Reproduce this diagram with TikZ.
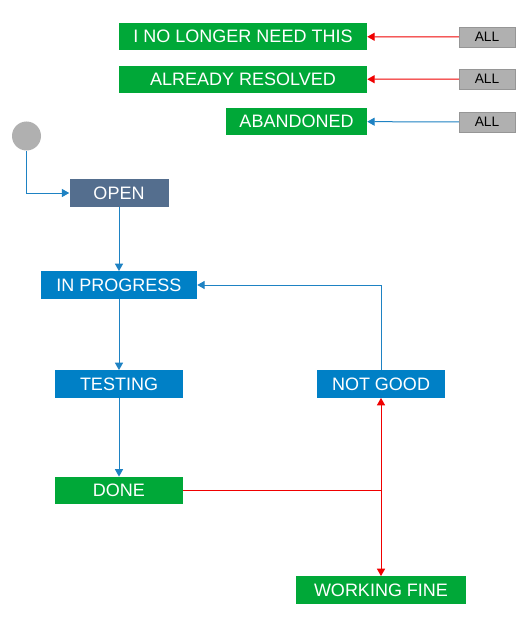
\documentclass[tikz,border=0pt]{standalone}
\usepackage{fontspec}
\setmainfont{Liberation Sans}
\usetikzlibrary{arrows.meta}
\definecolor{boxgreen}{RGB}{0,168,56}
\definecolor{boxblue}{RGB}{0,128,198}
\definecolor{boxslate}{RGB}{84,110,142}
\definecolor{boxgray}{RGB}{176,176,176}
\definecolor{lineblue}{RGB}{30,130,195}
\definecolor{linered}{RGB}{240,0,0}
\tikzset{
  state/.style={inner sep=0pt, minimum height=20.5pt, text=white,
    font=\fontsize{13.5}{15}\selectfont},
  donestate/.style={state, fill=boxgreen},
  workstate/.style={state, fill=boxblue},
  allbox/.style={inner sep=0pt, minimum width=42pt, minimum height=15pt,
    fill=boxgray, draw=boxgray!85!black, line width=0.3pt,
    font=\fontsize{10.3}{12}\selectfont},
  blueflow/.style={draw=lineblue, line width=0.75pt,
    -{Triangle[width=6pt,length=5.5pt]}},
  redflow/.style={draw=linered, line width=0.75pt,
    -{Triangle[width=6pt,length=5.5pt]}},
  redline/.style={draw=linered, line width=0.75pt}
}
\begin{document}
\begin{tikzpicture}[x=0.75pt, y=-0.75pt]
    \useasboundingbox[fill=white] (0, 0) rectangle (527, 624);

    % states reachable from anywhere
    \node[donestate, minimum width=186pt] (noneed) at (243, 36.5) {I NO LONGER NEED THIS};
    \node[donestate, minimum width=186pt] (resolved) at (243, 79.5) {ALREADY RESOLVED};
    \node[donestate, minimum width=105.75pt] (abandoned) at (296.5, 121.5) {ABANDONED};

    \node[allbox] (allA) at (487, 37) {ALL};
    \node[allbox] (allB) at (487, 79) {ALL};
    \node[allbox] (allC) at (487, 122) {ALL};

    \draw[redflow] (allA) -- (noneed);
    \draw[redflow] (allB) -- (resolved);
    \draw[blueflow] (allC) -- (abandoned);

    % main flow
    \node[circle, fill=boxgray, inner sep=0pt, minimum size=21.75pt] (start) at (26.5, 136) {};
    \node[state, fill=boxslate, minimum width=74.25pt] (open) at (119, 193) {OPEN};
    \node[workstate, minimum width=117pt] (inprogress) at (119, 285) {IN PROGRESS};
    \node[workstate, minimum width=96pt] (testing) at (119, 384) {TESTING};
    \node[workstate, minimum width=96pt] (notgood) at (381, 384) {NOT GOOD};
    \node[donestate, minimum width=96pt] (done) at (119, 490.5) {DONE};
    \node[donestate, minimum width=127.5pt] (workingfine) at (381, 590) {WORKING FINE};

    \draw[blueflow] (start.south) |- (open.west);
    \draw[blueflow] (open) -- (inprogress);
    \draw[blueflow] (inprogress) -- (testing);
    \draw[blueflow] (testing) -- (done);
    \draw[blueflow] (notgood.north) |- (inprogress.east);

    % outcome of done
    \coordinate (split) at (381, 490.5);
    \draw[redline] (done.east) -- (split);
    \draw[redflow] (split) -- (notgood.south);
    \draw[redflow] (split) -- (workingfine.north);
\end{tikzpicture}
\end{document}
